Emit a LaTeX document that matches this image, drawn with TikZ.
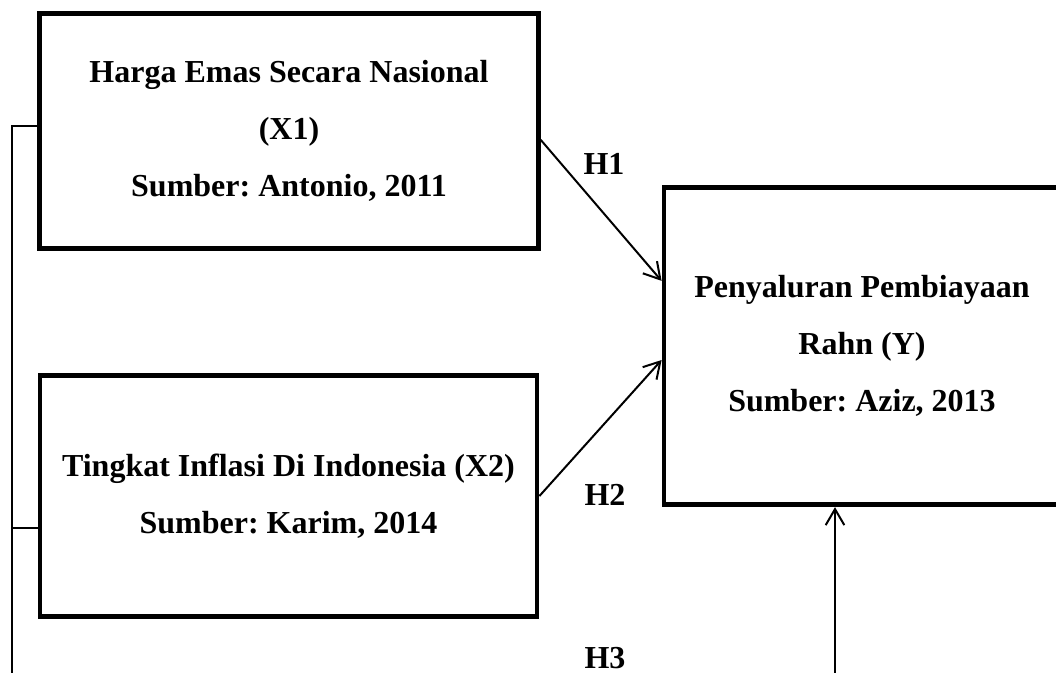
\documentclass[tikz,border=0pt]{standalone}
\usepackage{fontspec}
\setmainfont{Liberation Serif}
\usetikzlibrary{arrows.meta}
\frenchspacing

\begin{document}
\begin{tikzpicture}[x=0.75pt,y=-0.75pt,
  font=\fontsize{24}{42.75}\selectfont\bfseries,
  box/.style={draw,line width=3.6pt,align=center,inner sep=0pt},
  thinline/.style={line width=1.5pt},
  arrowline/.style={line width=1.5pt,-{Straight Barb[length=12pt,width=14pt]}}]
\useasboundingbox (0,0) rectangle (1056,673);
\node[box,minimum width=373.9pt,minimum height=175.9pt] (x1) at (289,131)
	{Harga Emas Secara Nasional\\(X1)\\Sumber: Antonio, 2011};
\node[box,minimum width=372.8pt,minimum height=180.4pt] (x2) at (288.5,496)
	{Tingkat Inflasi Di Indonesia (X2)\\Sumber: Karim, 2014};
\node[box,minimum width=297pt,minimum height=238.1pt] (y) at (862,346)
	{Penyaluran Pembiayaan\\Rahn (Y)\\Sumber: Aziz, 2013};
\node (h1) at (604,164) {H1};
\node (h2) at (605,495) {H2};
\node (h3) at (605,658) {H3};
\coordinate (bracktop) at (11.5,126);
\coordinate (brackmid) at (11.5,528);
\coordinate (brackbot) at (11.5,673);
\coordinate (h3foot) at (835,673);
\draw[thinline] (bracktop -| x1.west) -- (bracktop) -- (brackbot);
\draw[thinline] (brackmid) -- (brackmid -| x2.west);
\draw[arrowline] (x1.-2.8) -- (y.162.9);
\draw[arrowline] (x2.east) -- (y.184.9);
\draw[arrowline] (h3foot) -- (h3foot |- y.south);
\end{tikzpicture}
\end{document}
